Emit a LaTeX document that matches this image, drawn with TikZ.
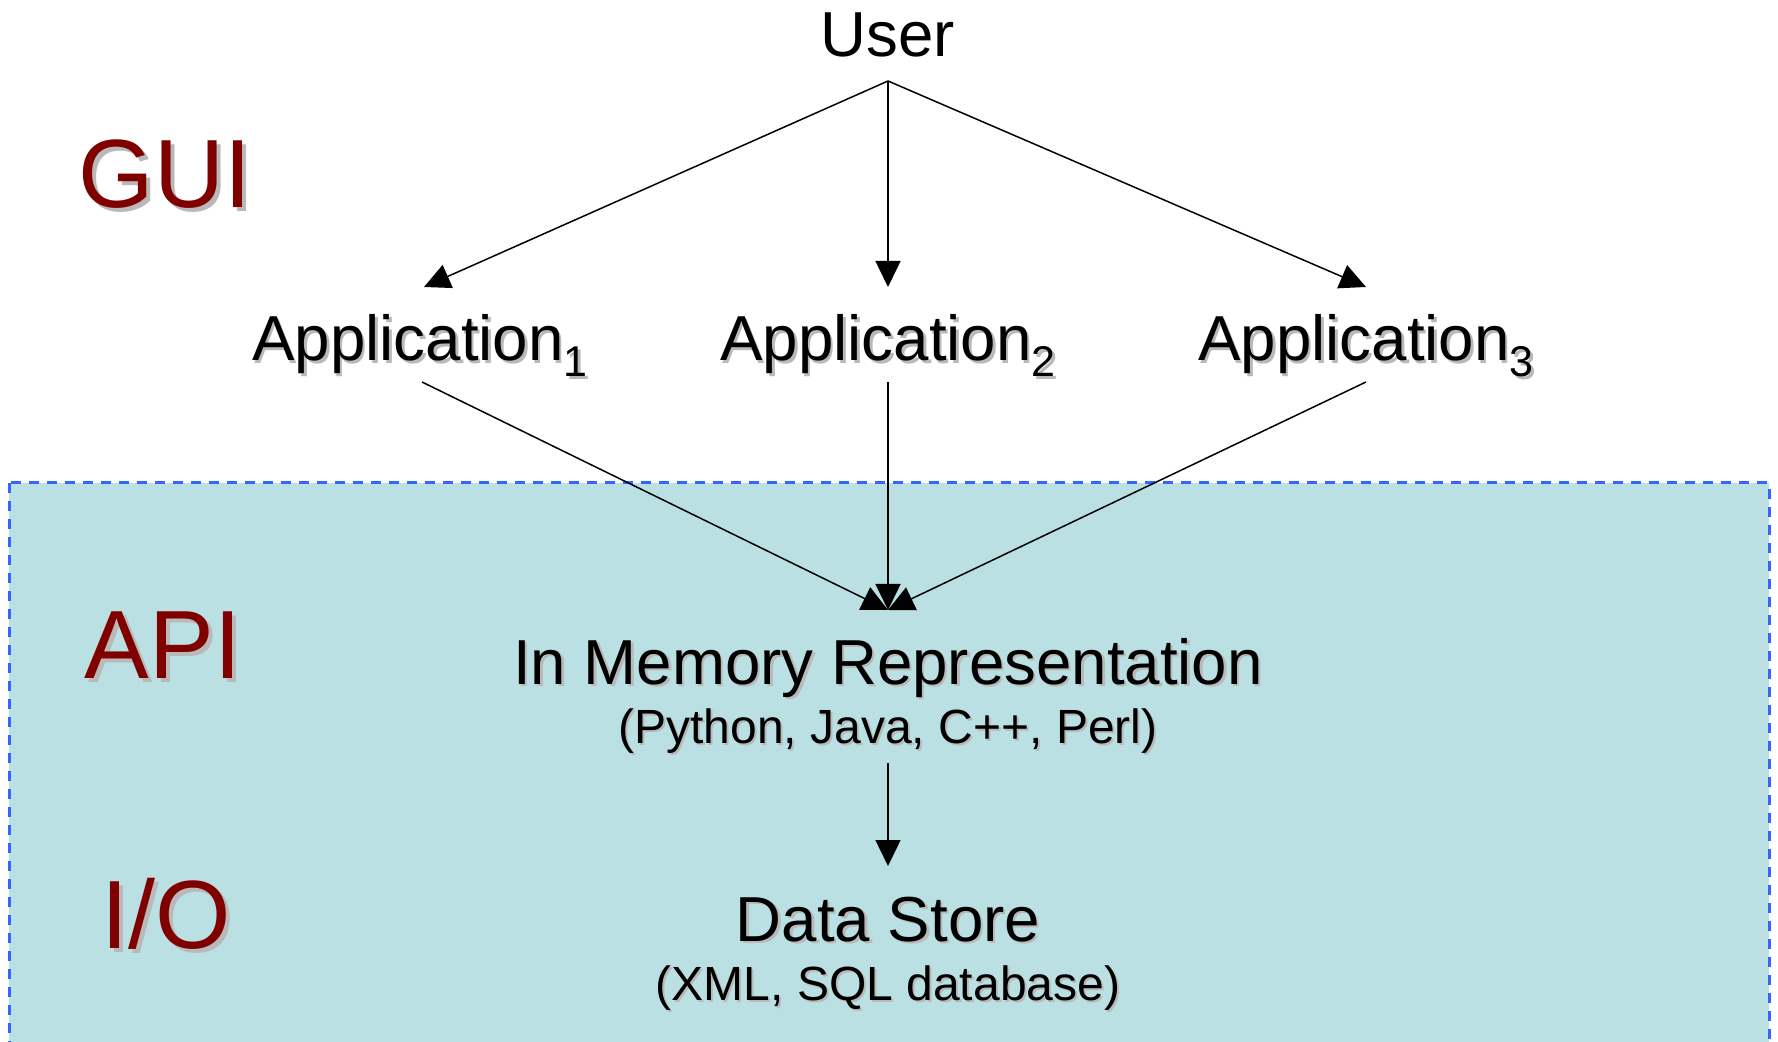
\documentclass[tikz,border=0pt]{standalone}
\usepackage{fontspec}
\setmainfont{Liberation Sans}
\usetikzlibrary{arrows.meta}

\definecolor{layerfill}{RGB}{186,224,227}
\definecolor{layerline}{RGB}{51,102,255}
\definecolor{layerred}{RGB}{128,0,0}
\definecolor{shadowgray}{RGB}{185,185,185}

% text with a soft gray drop shadow offset down and to the right
\newcommand\withshadow[2]{\leavevmode\rlap{\kern#1\raisebox{-#1}{\color{shadowgray}#2}}#2}
% lowered index digit after an application name
\newcommand\appidx[1]{\raisebox{-8pt}{\fontsize{21.5pt}{22pt}\selectfont #1}}

\tikzset{
  mainlbl/.style={font=\fontsize{31.8pt}{34pt}\selectfont, inner sep=0pt, anchor=base},
  sublbl/.style={font=\fontsize{24pt}{26pt}\selectfont, inner sep=0pt, anchor=base},
  layerlbl/.style={font=\fontsize{48.5pt}{50pt}\selectfont, text=layerred, inner sep=0pt, anchor=base},
  flow/.style={line width=0.75pt, -{Triangle[length=13pt,width=12.5pt]}},
  layerbox/.style={fill=layerfill, draw=layerline, line width=1.5pt, dash pattern=on 5pt off 4pt},
}

\begin{document}
\begin{tikzpicture}[x=0.5pt,y=-0.5pt]
\useasboundingbox (0,0) rectangle (1778,1042);

% shaded API / I/O region
\path[layerbox] (9,483) rectangle (1769,1060);

% layer names
\node[layerlbl] (gui) at (165,208) {\withshadow{2pt}{GUI}};
\node[layerlbl] (api) at (163,678) {\withshadow{2pt}{API}};
\node[layerlbl] (io)  at (166,948) {\withshadow{2pt}{I/O}};

% nodes
\node[mainlbl] (user) at (888,57) {User};
\node[mainlbl] (app1) at (420,361) {\withshadow{1.2pt}{Application\appidx{1}}};
\node[mainlbl] (app2) at (888,361) {\withshadow{1.2pt}{Application\appidx{2}}};
\node[mainlbl] (app3) at (1366,361) {\withshadow{1.2pt}{Application\appidx{3}}};
\node[mainlbl] (mem) at (888,684) {\withshadow{1.2pt}{In Memory Representation}};
\node[sublbl] (memlang) at (888,743) {\withshadow{1pt}{(Python, Java, C++, Perl)}};
\node[mainlbl] (store) at (888,941) {\withshadow{1.2pt}{Data Store}};
\node[sublbl] (storekind) at (888,1000) {\withshadow{1pt}{(XML, SQL database)}};

% connector ends
\coordinate (userOut) at (888,81);
\coordinate (app1In) at (424,287);
\coordinate (app2In) at (888,287);
\coordinate (app3In) at (1366,287);
\coordinate (app1Out) at (422,382);
\coordinate (app2Out) at (888,382);
\coordinate (app3Out) at (1366,382);
\coordinate (memIn) at (888,610);
\coordinate (memOut) at (888,763);
\coordinate (storeIn) at (888,866);

% connectors
\draw[flow] (userOut) -- (app1In);
\draw[flow] (userOut) -- (app2In);
\draw[flow] (userOut) -- (app3In);
\draw[flow] (app1Out) -- (memIn);
\draw[flow] (app3Out) -- (memIn);
\draw[flow] (app2Out) -- (memIn);
\draw[flow] (memOut) -- (storeIn);
\end{tikzpicture}
\end{document}
